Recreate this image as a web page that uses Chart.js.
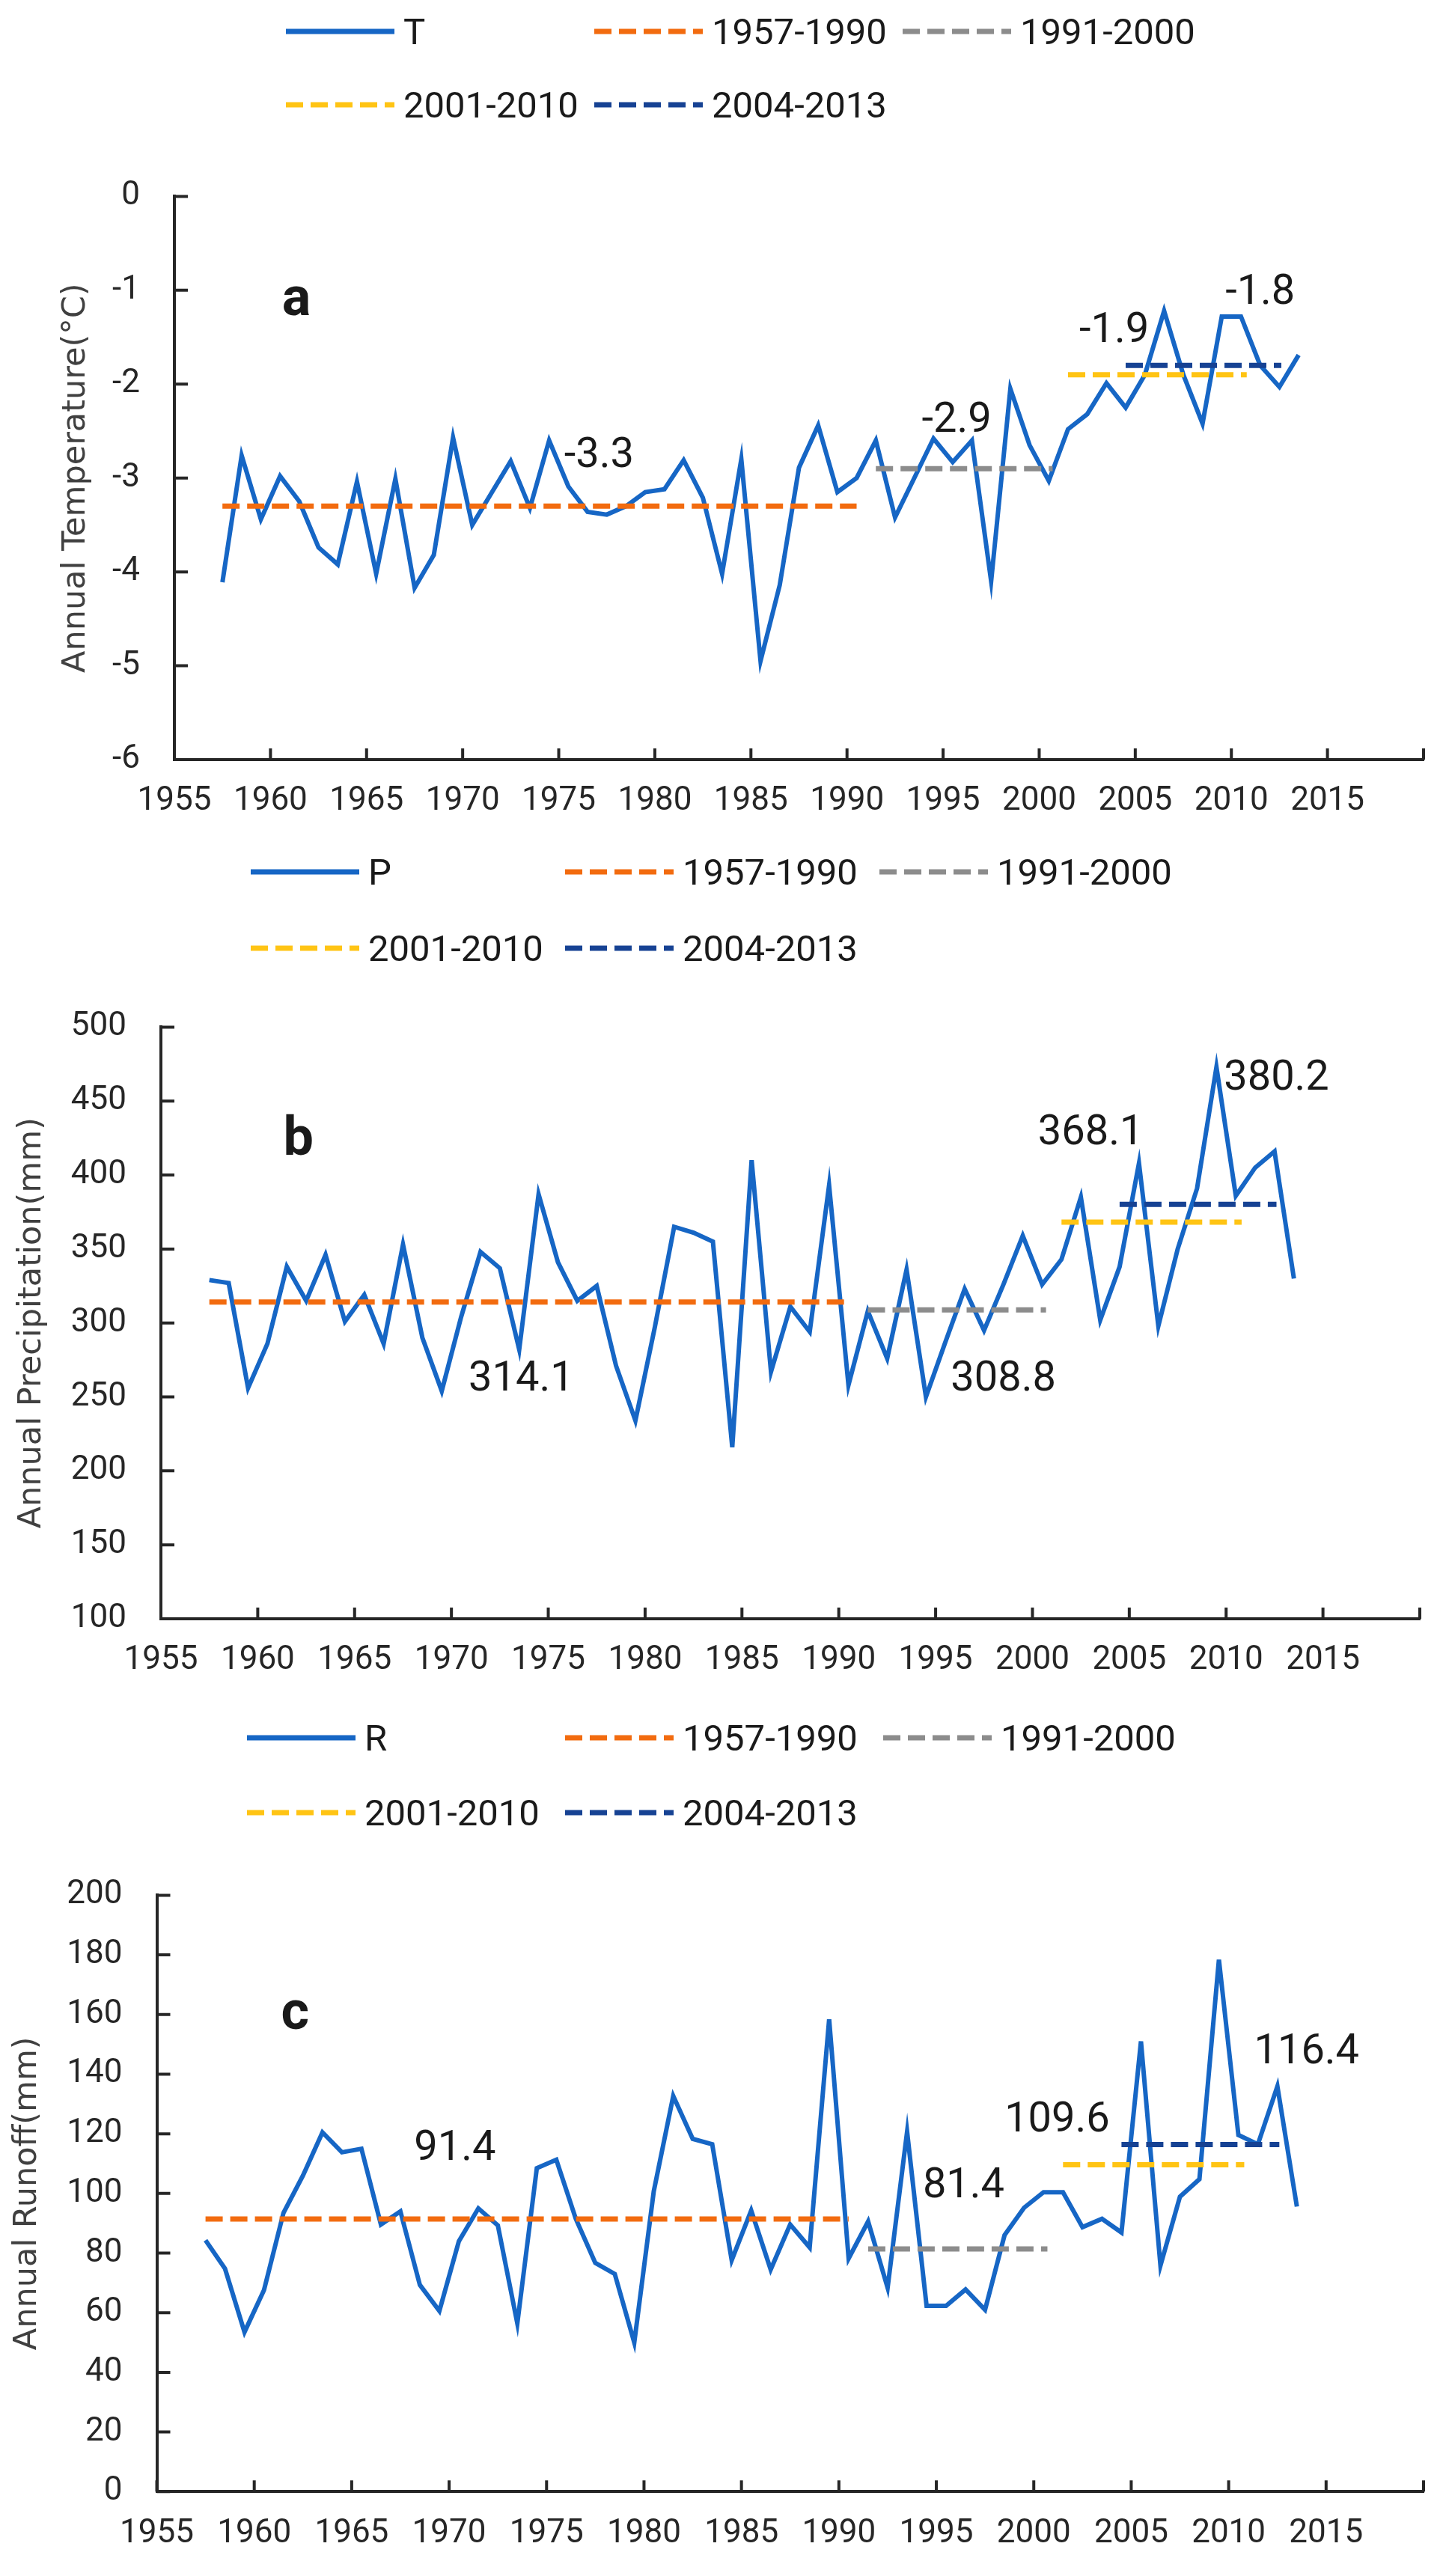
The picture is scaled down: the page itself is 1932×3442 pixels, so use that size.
<!DOCTYPE html>
<html lang="en">
<head>
<meta charset="utf-8">
<title>Annual temperature, precipitation and runoff</title>
<script src="https://cdn.jsdelivr.net/npm/chart.js@4.4.1/dist/chart.umd.min.js"></script>
<style>
  html, body { margin: 0; padding: 0; background: #fff; }
  body { position: relative; width: 1932px; height: 3442px; overflow: hidden; }
  canvas { position: absolute; left: 0; }
  .legend { position: absolute; display: grid; font-family: Roboto, sans-serif; font-size: 49px; color: #1a1a1a; }
  .legend .item { display: flex; align-items: center; height: 60px; white-space: nowrap; }
  .legend svg { flex: none; margin-right: 12px; }
</style>
</head>
<body>
<div class="legend" id="legend-a"></div>
<canvas id="chart-a"></canvas>
<div class="legend" id="legend-b"></div>
<canvas id="chart-b"></canvas>
<div class="legend" id="legend-c"></div>
<canvas id="chart-c"></canvas>
<script>
const years = [
  1957, 1958, 1959, 1960, 1961, 1962, 1963, 1964, 1965, 1966,
  1967, 1968, 1969, 1970, 1971, 1972, 1973, 1974, 1975, 1976,
  1977, 1978, 1979, 1980, 1981, 1982, 1983, 1984, 1985, 1986,
  1987, 1988, 1989, 1990, 1991, 1992, 1993, 1994, 1995, 1996,
  1997, 1998, 1999, 2000, 2001, 2002, 2003, 2004, 2005, 2006,
  2007, 2008, 2009, 2010, 2011, 2012, 2013
];

// annual temperature (°C)
const tempValues = [
  -4.11, -2.76, -3.44, -2.98, -3.25, -3.74, -3.92, -3.04, -4.02, -3.01,
  -4.17, -3.82, -2.57, -3.50, -3.16, -2.82, -3.32, -2.60, -3.09, -3.36,
  -3.39, -3.30, -3.15, -3.12, -2.81, -3.21, -4.02, -2.80, -4.95, -4.14,
  -2.89, -2.44, -3.15, -3.00, -2.60, -3.42, -3.00, -2.58, -2.83, -2.60,
  -4.10, -2.05, -2.65, -3.03, -2.48, -2.32, -1.99, -2.25, -1.90, -1.22,
  -1.90, -2.42, -1.28, -1.28, -1.80, -2.03, -1.69
];

// annual precipitation (mm)
const precipValues = [
  329, 327, 256, 286, 338, 315, 346, 301, 319, 286,
  353, 290, 254, 304, 348, 337, 282, 387, 341, 315,
  325, 271, 234, 297, 365, 361, 355, 216, 410, 267,
  311, 294, 393, 258, 308, 276, 336, 250, 287, 323,
  295, 326, 359, 326, 343, 385, 302, 338, 408, 298,
  350, 391, 473, 386, 405, 416, 330
];

// annual runoff (mm)
const runoffValues = [
  84.3, 74.8, 53.5, 67.6, 93.5, 106, 120.5, 113.8, 115, 89.6,
  94, 69.3, 60.6, 84, 95, 89.3, 56.4, 108.5, 111.3, 91.5,
  76.7, 73, 50, 100.7, 132.7, 118.3, 116.5, 77.6, 94.3, 74.5,
  89.6, 81.9, 158.4, 78.2, 90.6, 68.4, 120.7, 62.3, 62.3, 67.8,
  61, 86, 95.2, 100.4, 100.4, 88.7, 91.5, 86.9, 151, 75.8,
  98.9, 104.8, 178.4, 119.6, 116.5, 135.9, 95.6
];

// period means and where their dashed segments start / stop on the year axis
const periodLabels = ["1957-1990", "1991-2000", "2001-2010", "2004-2013"];
const segStart = [1957.5, 1991.5, 2001.5, 2004.5];
const segEnd = [1990.5, 2000.7, 2010.8, 2012.6];
const tempMeans = [-3.3, -2.9, -1.9, -1.8];
const precipMeans = [314.1, 308.8, 368.1, 380.2];
const runoffMeans = [91.4, 81.4, 109.6, 116.4];

// where the mean labels sit, in axis units
const tempNoteYear = [1977.1, 1995.7, 2003.9, 2011.5];
const tempNoteValue = [-2.77, -2.40, -1.44, -1.03];
const precipNoteYear = [1973.6, 1998.5, 2003.0, 2012.6];
const precipNoteValue = [261.4, 261.4, 428.1, 465.0];
const runoffNoteYear = [1970.3, 1996.4, 2001.2, 2014.0];
const runoffNoteValue = [114.8, 102.3, 124.4, 147.2];

// tick labels
const yearTicks = [1955, 1960, 1965, 1970, 1975, 1980, 1985, 1990, 1995, 2000, 2005, 2010, 2015, 2020];
const tempTicks = [-6, -5, -4, -3, -2, -1, 0];
const precipTicks = [100, 150, 200, 250, 300, 350, 400, 450, 500];
const runoffTicks = [0, 20, 40, 60, 80, 100, 120, 140, 160, 180, 200];

const seriesColor = "#1666c5";
const periodColors = ["#f26b0f", "#8c8c8c", "#ffc414", "#164293"];
const axisColor = "#262626";
const midYear = 0.5; // the original plots each year at its middle

Chart.defaults.font.family = "Roboto, sans-serif";

const innerTicks = {
  id: "innerTicks",
  afterDatasetsDraw(chart) {
    const { ctx, chartArea, scales } = chart;
    ctx.save();
    ctx.strokeStyle = axisColor;
    ctx.lineWidth = 4;
    ctx.beginPath();
    scales.y.ticks.forEach((t) => {
      const py = scales.y.getPixelForValue(t.value);
      ctx.moveTo(chartArea.left, py);
      ctx.lineTo(chartArea.left + 18, py);
    });
    scales.x.ticks.forEach((t) => {
      const px = scales.x.getPixelForValue(t.value);
      ctx.moveTo(px, chartArea.bottom);
      ctx.lineTo(px, chartArea.bottom - 15);
    });
    ctx.stroke();
    ctx.restore();
  },
};

const notesPlugin = {
  id: "notes",
  afterDatasetsDraw(chart, args, opts) {
    const { ctx, scales } = chart;
    ctx.save();
    ctx.textAlign = "center";
    ctx.textBaseline = "middle";
    ctx.fillStyle = "#1a1a1a";
    (opts.items || []).forEach((n) => {
      ctx.font = n.font;
      ctx.fillText(n.text, scales.x.getPixelForValue(n.x), scales.y.getPixelForValue(n.y));
    });
    ctx.restore();
  },
};

const htmlLegend = {
  id: "htmlLegend",
  afterUpdate(chart, args, opts) {
    const box = document.getElementById(opts.containerID);
    box.innerHTML = "";
    chart.data.datasets.forEach((ds) => {
      const item = document.createElement("div");
      item.className = "item";
      const dash = ds.borderDash && ds.borderDash.length ? ds.borderDash.join(" ") : "none";
      item.innerHTML =
        `<svg width="145" height="14"><line x1="0" y1="7" x2="145" y2="7" stroke="${ds.borderColor}" ` +
        `stroke-width="${ds.borderDash ? 7 : 7}" stroke-dasharray="${dash}"/></svg><span>${ds.label}</span>`;
      box.appendChild(item);
    });
  },
};

function criarPainel(cfg) {
  const L = cfg.layout;
  const canvas = document.getElementById(cfg.canvasId);
  canvas.width = 1932;
  canvas.height = L.height;
  canvas.style.top = L.top + "px";
  canvas.style.width = "1932px";
  canvas.style.height = L.height + "px";

  const legend = document.getElementById(cfg.legendId);
  legend.style.left = L.legendLeft + "px";
  legend.style.top = L.legendTop + "px";
  legend.style.gridTemplateColumns = `repeat(3, ${L.legendPitch}px)`;
  legend.style.rowGap = L.legendGap + "px";

  const datasets = [
    {
      label: cfg.seriesLabel,
      data: years.map((yr, i) => ({ x: yr + midYear, y: cfg.values[i] })),
      borderColor: seriesColor,
      borderWidth: 6,
      pointRadius: 0,
      tension: 0,
      order: 1,
    },
  ];
  periodLabels.forEach((lab, i) => {
    datasets.push({
      label: lab,
      data: [
        { x: segStart[i], y: cfg.means[i] },
        { x: segEnd[i], y: cfg.means[i] },
      ],
      borderColor: periodColors[i],
      borderWidth: 7,
      borderDash: [23, 10],
      borderCapStyle: "butt",
      pointRadius: 0,
      order: 0,
    });
  });

  const notes = cfg.means.map((m, i) => ({
    text: m.toFixed(1),
    x: cfg.noteYear[i],
    y: cfg.noteValue[i],
    font: "56px Roboto, sans-serif",
  }));
  notes.push({ text: cfg.letter, x: cfg.letterAt[0], y: cfg.letterAt[1], font: "bold 72px Roboto, sans-serif" });

  return new Chart(canvas.getContext("2d"), {
    type: "line",
    data: { datasets },
    options: {
      responsive: false,
      animation: false,
      devicePixelRatio: 1,
      layout: { padding: { top: L.plotTop - L.top, right: 1932 - L.plotRight, left: 0, bottom: 0 } },
      plugins: {
        legend: { display: false },
        tooltip: { enabled: false },
        htmlLegend: { containerID: cfg.legendId },
        notes: { items: notes },
      },
      scales: {
        x: {
          type: "linear",
          min: yearTicks[0],
          max: yearTicks[yearTicks.length - 1],
          afterBuildTicks: (s) => {
            s.ticks = yearTicks.map((v) => ({ value: v }));
          },
          afterFit: (s) => {
            s.height = L.top + L.height - L.plotBottom;
          },
          grid: { display: false, drawTicks: false },
          border: { display: true, color: axisColor, width: 4 },
          ticks: {
            padding: 30,
            color: axisColor,
            font: { size: 44 },
            maxRotation: 0,
            autoSkip: false,
            callback: (v) => (v === 2020 ? "" : String(v)),
          },
        },
        y: {
          type: "linear",
          min: cfg.ticks[0],
          max: cfg.ticks[cfg.ticks.length - 1],
          afterBuildTicks: (s) => {
            s.ticks = cfg.ticks.map((v) => ({ value: v }));
          },
          afterFit: (s) => {
            s.width = L.plotLeft;
          },
          grid: { display: false, drawTicks: false },
          border: { display: true, color: axisColor, width: 4 },
          ticks: {
            padding: 46,
            color: axisColor,
            font: { size: 44 },
            callback: (v) => String(v),
          },
          title: {
            display: true,
            text: cfg.yTitle,
            color: "#404040",
            font: { family: "'DejaVu Sans', sans-serif", size: 43 },
            padding: { top: L.titlePad, bottom: 0 },
          },
        },
      },
    },
    plugins: [htmlLegend, innerTicks, notesPlugin],
  });
}

criarPainel({
  canvasId: "chart-a",
  legendId: "legend-a",
  seriesLabel: "T",
  values: tempValues,
  means: tempMeans,
  noteYear: tempNoteYear,
  noteValue: tempNoteValue,
  ticks: tempTicks,
  yTitle: "Annual Temperature(°C)",
  letter: "a",
  letterAt: [1961.35, -1.12],
  layout: {
    top: 190, height: 930, plotTop: 243.5, plotBottom: 1015, plotLeft: 233, plotRight: 1907,
    titlePad: 76, legendLeft: 382, legendTop: 12, legendPitch: 412, legendGap: 38,
  },
});

criarPainel({
  canvasId: "chart-b",
  legendId: "legend-b",
  seriesLabel: "P",
  values: precipValues,
  means: precipMeans,
  noteYear: precipNoteYear,
  noteValue: precipNoteValue,
  ticks: precipTicks,
  yTitle: "Annual Precipitation(mm)",
  letter: "b",
  letterAt: [1962.1, 422.6],
  layout: {
    top: 1300, height: 960, plotTop: 1370.7, plotBottom: 2163, plotLeft: 215, plotRight: 1897,
    titlePad: 17, legendLeft: 335, legendTop: 1135, legendPitch: 420, legendGap: 42,
  },
});

criarPainel({
  canvasId: "chart-c",
  legendId: "legend-c",
  seriesLabel: "R",
  values: runoffValues,
  means: runoffMeans,
  noteYear: runoffNoteYear,
  noteValue: runoffNoteValue,
  ticks: runoffTicks,
  yTitle: "Annual Runoff(mm)",
  letter: "c",
  letterAt: [1962.1, 159.6],
  layout: {
    top: 2460, height: 982, plotTop: 2523.3, plotBottom: 3329.3, plotLeft: 209.5, plotRight: 1903,
    titlePad: 11, legendLeft: 330, legendTop: 2292, legendPitch: 425, legendGap: 40,
  },
});
</script>
</body>
</html>
